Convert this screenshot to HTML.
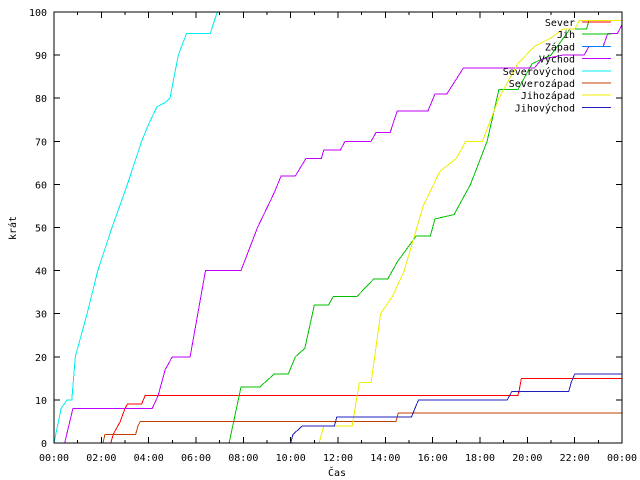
<!DOCTYPE html>
<html><head><meta charset="utf-8"><style>
body{margin:0;background:#fff}
svg{display:block;font-family:"DejaVu Sans Mono","Liberation Mono",monospace;font-size:10px}
line,rect,polyline{shape-rendering:crispEdges}
</style></head><body>
<svg id="chart" width="640" height="480"></svg>
<script>
const seriesNames=["Sever","Jih","Západ","Východ","Severovýchod","Severozápad","Jihozápad","Jihovýchod"];
const seriesColors=["#ff0000","#00c000","#0080ff","#c000ff","#00eeee","#c04000","#eeee00","#2020c0"];
const sever=[[2.4,0],[2.5,2],[2.8,5],[3.0,8],[3.1,9],[3.7,9],[3.85,11],[19.6,11],[19.65,12],[19.75,15],[24,15]];
const jih=[[7.4,0],[7.9,13],[8.7,13],[9.3,16],[9.9,16],[10.2,20],[10.6,22],[11.0,32],[11.6,32],[11.8,34],[12.8,34],[13.5,38],[14.1,38],[14.5,42],[15.3,48],[15.9,48],[16.1,52],[16.9,53],[17.6,60],[18.3,70],[18.8,82],[19.6,82],[20.2,88],[21.0,90],[21.8,96],[22.5,96],[22.6,98],[24,98]];
const zapad=[];
const vychod=[[0.45,0],[0.8,8],[4.15,8],[4.4,11],[4.7,17],[5.0,20],[5.75,20],[6.4,40],[7.9,40],[8.6,50],[9.3,58],[9.6,62],[10.2,62],[10.65,66],[11.3,66],[11.4,68],[12.1,68],[12.3,70],[13.4,70],[13.6,72],[14.2,72],[14.5,77],[15.8,77],[16.1,81],[16.6,81],[17.3,87],[20.3,87],[20.6,89],[21.5,90],[22.4,90],[22.6,92],[23.2,92],[23.4,95],[23.8,95],[24,97]];
const severovychod=[[0,0],[0.3,8],[0.55,10],[0.75,10],[0.9,20],[1.4,30],[1.85,40],[2.45,50],[3.1,60],[3.7,70],[4.0,74],[4.35,78],[4.7,79],[4.9,80],[5.25,90],[5.6,95],[6.6,95],[6.9,100]];
const severozapad=[[2.07,0],[2.15,2],[3.45,2],[3.55,4],[3.65,5],[14.45,5],[14.55,7],[24,7]];
const jihozapad=[[11.2,0],[11.4,4],[12.6,4],[12.9,14],[13.4,14],[13.8,30],[14.3,34],[14.8,40],[15.6,55],[16.3,63],[17.0,66],[17.4,70],[18.1,70],[18.8,80],[19.6,88],[20.3,92],[21.0,94],[21.5,96],[22.0,96],[22.2,98],[24,98]];
const jihovychod=[[10.0,0],[10.1,2],[10.5,4],[11.85,4],[11.95,6],[15.1,6],[15.25,8],[15.4,10],[19.15,10],[19.25,11],[19.35,12],[21.75,12],[21.85,14],[22.0,16],[24,16]];
const allSeries=[sever,jih,zapad,vychod,severovychod,severozapad,jihozapad,jihovychod];
const yTicks=[0,10,20,30,40,50,60,70,80,90,100];
const xTicks=[0,2,4,6,8,10,12,14,16,18,20,22,24];
const xTickLabels=["00:00","02:00","04:00","06:00","08:00","10:00","12:00","14:00","16:00","18:00","20:00","22:00","00:00"];

const L=54,R=622,T=12,B=443;
const X=h=>L+(R-L)*h/24;
const Y=v=>B-(B-T)*v/100;
const NS="http://www.w3.org/2000/svg";
const svg=document.getElementById("chart");
function mk(tag,attrs,parent){const e=document.createElementNS(NS,tag);for(const k in attrs)e.setAttribute(k,attrs[k]);(parent||svg).appendChild(e);return e;}

yTicks.forEach(v=>{
  const y=Y(v);
  const t=mk("line",{x1:L,x2:L+6,y1:y,y2:y,stroke:"#000"});
  
  
  const t2=mk("line",{x1:R-6,x2:R,y1:y,y2:y,stroke:"#000"});
  
  
  const lb=mk("text",{x:47,y:y+4,"text-anchor":"end"});
  lb.textContent=v;
  
  
});
for(let h=0;h<=24;h++){
  const x=X(h),len=(h%2==0)?6:3;
  const t=mk("line",{x1:x,x2:x,y1:B,y2:B-len,stroke:"#000"});
  
  
  const t2=mk("line",{x1:x,x2:x,y1:T,y2:T+len,stroke:"#000"});
  
  
}
xTicks.forEach((h,i)=>{
  const lb=mk("text",{x:X(h),y:461,"text-anchor":"middle"});
  lb.textContent=xTickLabels[i];
  
  
});

allSeries.forEach((s,i)=>{
  if(!s.length)return;
  const p=mk("polyline",{points:s.map(d=>X(d[0]).toFixed(1)+","+Y(d[1]).toFixed(1)).join(" "),fill:"none",stroke:seriesColors[i],"stroke-width":1});
  
  
});

seriesNames.forEach((n,i)=>{
  const y=22+i*12.2;
  const g=mk("g",{});
  
  
  const t=mk("text",{x:575,y:y+4,"text-anchor":"end"},g);
  t.textContent=n;
  mk("line",{x1:582,x2:611,y1:y,y2:y,stroke:seriesColors[i]},g);
});

const frame=mk("rect",{x:L,y:T,width:R-L,height:B-T,fill:"none",stroke:"#000"});


const xt=mk("text",{x:337,y:476,"text-anchor":"middle"});
xt.textContent="Čas";


const yt=mk("text",{x:16,y:228,"text-anchor":"middle",transform:"rotate(-90 16 228)"});
yt.textContent="krát";


</script>
</body></html>
